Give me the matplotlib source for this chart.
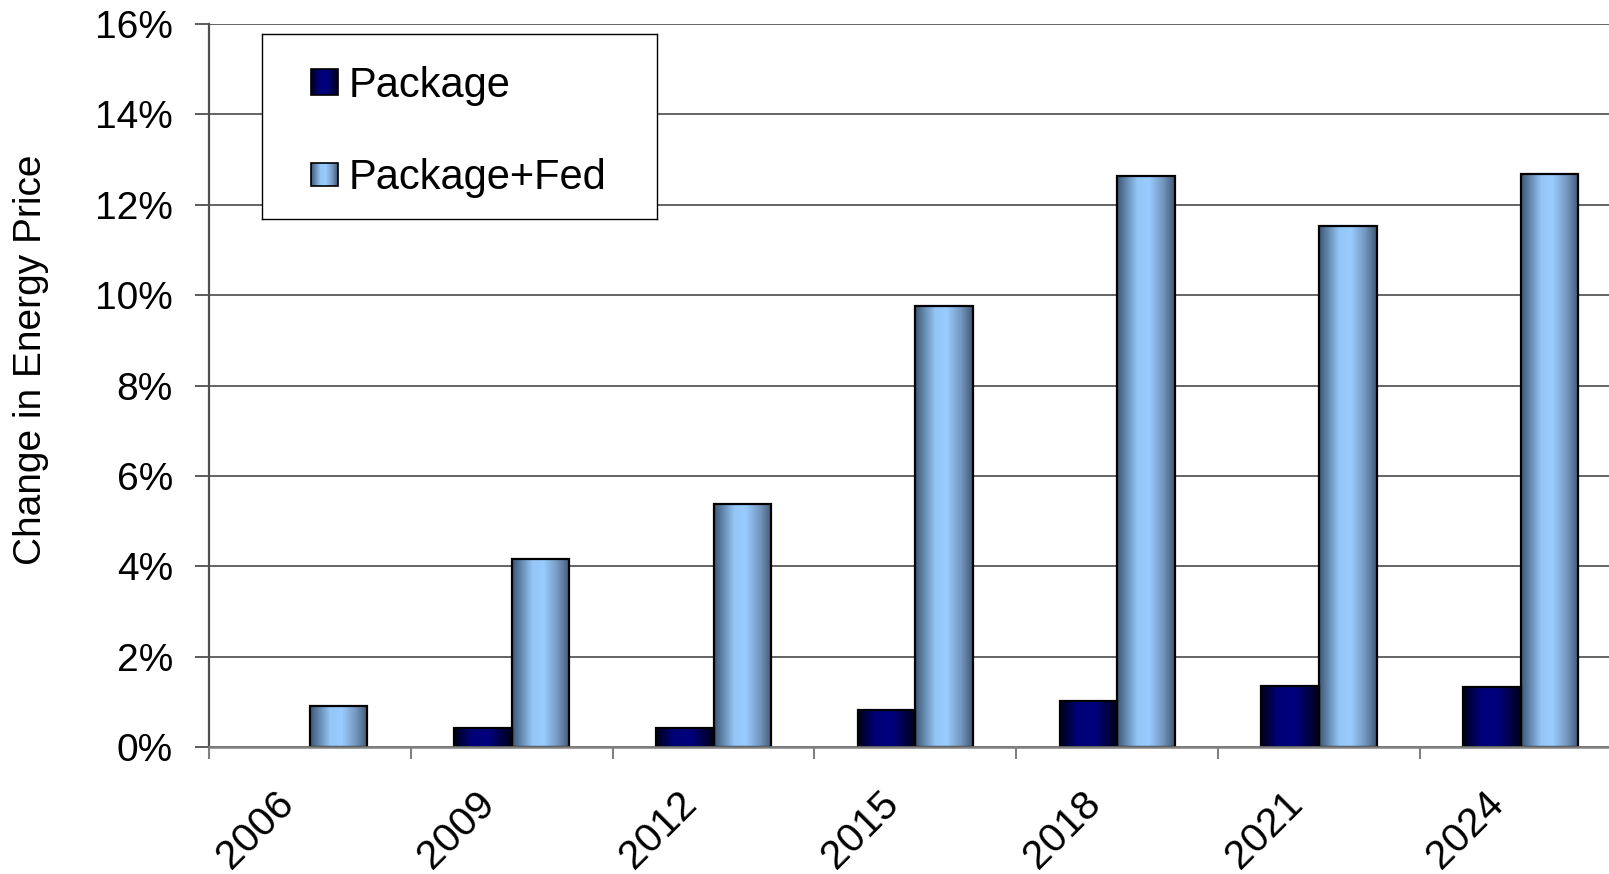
import numpy as np
import matplotlib
matplotlib.use("Agg")
import matplotlib.pyplot as plt
from matplotlib.colors import LinearSegmentedColormap
from matplotlib.ticker import FixedLocator, PercentFormatter
from matplotlib.transforms import ScaledTranslation

plt.rcParams['font.family'] = ['Liberation Sans', 'DejaVu Sans']

# ---- data ----
years = ['2006', '2009', '2012', '2015', '2018', '2021', '2024']
package = [0.0, 0.43, 0.43, 0.82, 1.02, 1.34, 1.32]
package_fed = [0.91, 4.15, 5.38, 9.76, 12.64, 11.53, 12.69]
series_names = ['Package', 'Package+Fed']

# ---- styles ----
W, H = 1609, 874
fig = plt.figure(figsize=(W / 100, H / 100), dpi=100)
ax_left, ax_right, ax_top, ax_bottom = 209, 1609, 24, 747
ax = fig.add_axes([ax_left / W, 1 - ax_bottom / H, (ax_right - ax_left) / W, (ax_bottom - ax_top) / H])

cmap_pkg = LinearSegmentedColormap.from_list(
    'pkg', [(0.0, '#000018'), (0.3, '#000078'), (0.6, '#00007e'), (1.0, '#000018')])
cmap_fed = LinearSegmentedColormap.from_list(
    'fed', [(0.0, '#3c5674'), (0.35, '#94c6f6'), (0.55, '#99ccff'), (0.8, '#7396bd'), (1.0, '#3f5876')])
grad = np.linspace(0, 1, 256).reshape(1, -1)

x = np.arange(len(years))
bw = 0.285


def gradient_bars(xpos, vals, cmap):
    bars = ax.bar(xpos, vals, width=bw, align='edge',
                  facecolor='none', edgecolor='black', linewidth=1.6, zorder=4)
    for b, v in zip(bars, vals):
        if v <= 0:
            b.set_visible(False)
            continue
        x0, y0 = b.get_x(), b.get_y()
        ax.imshow(grad, cmap=cmap, extent=(x0, x0 + b.get_width(), y0, y0 + b.get_height()),
                  aspect='auto', interpolation='bilinear', zorder=3)
    return bars


gradient_bars(x - bw, package, cmap_pkg)
gradient_bars(x, package_fed, cmap_fed)

# grid & spines
ax.set_axisbelow(True)
ax.yaxis.set_major_locator(FixedLocator(np.arange(0, 17, 2)))
ax.yaxis.set_major_formatter(PercentFormatter(decimals=0))
ax.grid(axis='y', color='#3a3a3a', linewidth=1.1, zorder=0)
ax.grid(axis='x', visible=False)
for s in ['top', 'right']:
    ax.spines[s].set_visible(False)
ax.spines['left'].set_color('#505050')
ax.spines['left'].set_linewidth(1.6)
ax.spines['bottom'].set_color('#808080')
ax.spines['bottom'].set_linewidth(1.8)
ax.spines['bottom'].set_zorder(5)

ax.tick_params(axis='y', direction='out', length=10, width=1.1, color='#303030',
               labelsize=28, pad=16)
ax.set_xticks(x)
ax.set_xticklabels(years, rotation=45, ha='right', rotation_mode='anchor', fontsize=29.5)
ax.tick_params(axis='x', which='major', length=0, pad=27)
ax.set_xticks(np.arange(-0.5, 6.0, 1), minor=True)
ax.tick_params(axis='x', which='minor', direction='out', length=8.6, width=1.5, color='#808080')
offset = ScaledTranslation(-0.36, 0.0, fig.dpi_scale_trans)
for lbl in ax.get_xticklabels():
    lbl.set_transform(lbl.get_transform() + offset)

ax.set_xlim(-0.5, 6.437)
ax.set_ylim(0, 16)

fig.text(31 / W, 1 - 360 / H, 'Change in Energy Price', rotation=90, ha='center', va='center',
         fontsize=28)

# ---- legend (manual box) ----
lx0, ly0, lx1, ly1 = 262, 34, 657, 219
lax = fig.add_axes([lx0 / W, 1 - ly1 / H, (lx1 - lx0) / W, (ly1 - ly0) / H], zorder=10)
lax.set_xticks([])
lax.set_yticks([])
lax.set_facecolor('white')
for s in lax.spines.values():
    s.set_color('black')
    s.set_linewidth(1.0)
for (my0, my1, tb), cmap, name in zip([(35, 61, 63), (129, 152, 155)], [cmap_pkg, cmap_fed], series_names):
    lax.imshow(grad, cmap=cmap, extent=(49, 76, my1, my0), aspect='auto', interpolation='bilinear', zorder=2)
    lax.add_patch(plt.Rectangle((49, my0), 27, my1 - my0, facecolor='none', edgecolor='black',
                                linewidth=1.2, zorder=3))
    lax.text(87, tb, name, fontsize=30, va='baseline', ha='left')
lax.set_xlim(0, lx1 - lx0)
lax.set_ylim(ly1 - ly0, 0)

fig.savefig('out.png', dpi=100)
